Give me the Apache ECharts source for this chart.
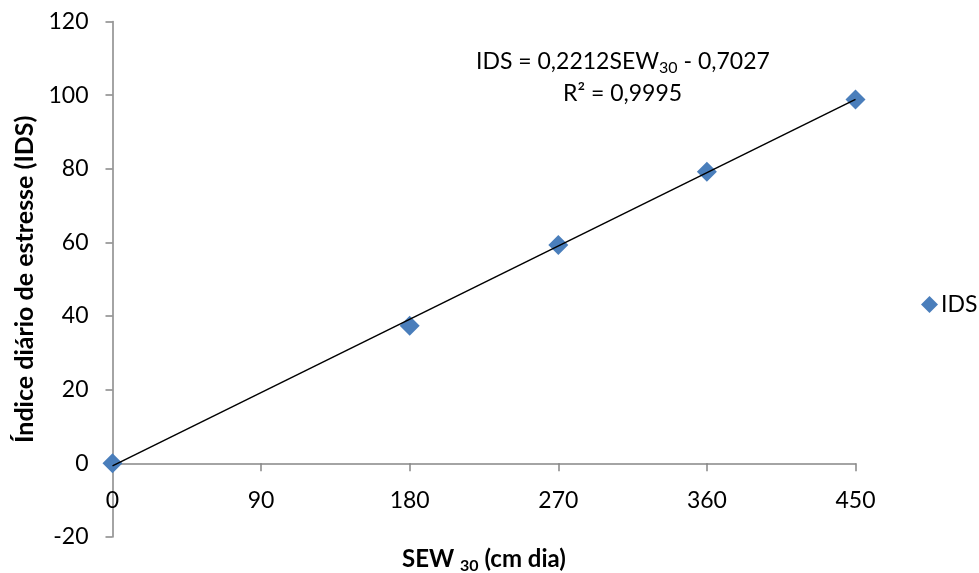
<!DOCTYPE html>
<html>
<head>
<meta charset="utf-8">
<script src="https://cdn.jsdelivr.net/npm/echarts@6/dist/echarts.min.js"></script>
<style>
  html, body { margin: 0; padding: 0; background: #fff; }
  #main { width: 979px; height: 573px; }
</style>
</head>
<body>
<div id="main"></div>
<script>
// dados
const sewValues = [0, 180, 270, 360, 450]
const idsValues = [0, 37.4, 59.3, 79.2, 98.8]
const xTicks = [0, 90, 180, 270, 360, 450]
const yTicks = [-20, 0, 20, 40, 60, 80, 100, 120]
// linha de tendência (equação mostrada no gráfico)
const trendSlope = 0.2212
const trendIntercept = -0.7027

const font = 'Lato'
const axisColor = '#868686'

const chart = echarts.init(document.getElementById('main'))

const points = sewValues.map((x, i) => [x, idsValues[i]])
const xFirst = xTicks[0], xLast = xTicks[xTicks.length - 1]
const trend = [
  [xFirst, trendSlope * xFirst + trendIntercept],
  [xLast, trendSlope * xLast + trendIntercept]
]

const option = {
  animation: false,
  textStyle: { fontFamily: font },
  grid: {
    left: 112.5, right: 123.5, top: 21.5, bottom: 36,
    containLabel: false,
    outerBoundsMode: 'none'
  },
  legend: {
    data: ['IDS'],
    left: 916,
    top: 288,
    icon: 'diamond',
    itemWidth: 17,
    itemHeight: 17,
    itemGap: 4,
    textStyle: { fontFamily: font, fontSize: 23, color: '#000', padding: [0, 0, 0, -2] }
  },
  xAxis: {
    type: 'value',
    min: xFirst,
    max: xLast,
    interval: 90,
    axisLine: { onZero: true, lineStyle: { color: axisColor, width: 1.5 } },
    axisTick: { show: true, length: 8, lineStyle: { color: axisColor, width: 1.5 } },
    splitLine: { show: false },
    // no v6 os rótulos ficam na borda do grid, então margem negativa
    axisLabel: { margin: -48, fontFamily: font, fontSize: 23, color: '#000' },
    name: 'SEW {sub|30} (cm dia)',
    nameLocation: 'middle',
    nameGap: 7,
    nameMoveOverlap: false,
    nameTextStyle: {
      fontFamily: font, fontSize: 24, fontWeight: 'bold', color: '#000',
      rich: { sub: { fontFamily: font, fontSize: 16, fontWeight: 'bold', color: '#000', padding: [14, 0, 0, 0] } }
    }
  },
  yAxis: {
    type: 'value',
    min: yTicks[0],
    max: yTicks[yTicks.length - 1],
    interval: 20,
    axisLine: { show: true, onZero: false, lineStyle: { color: axisColor, width: 1.5 } },
    axisTick: { show: true, length: 7, lineStyle: { color: axisColor, width: 1.5 } },
    splitLine: { show: false },
    axisLabel: { margin: 24, fontFamily: font, fontSize: 23, color: '#000' },
    name: 'Índice diário de estresse (IDS)',
    nameLocation: 'middle',
    nameGap: 73,
    nameRotate: 90,
    nameTextStyle: { fontFamily: font, fontSize: 25, fontWeight: 'bold', color: '#000' }
  },
  graphic: [
    {
      type: 'text',
      left: 476,
      top: 50,
      style: {
        text: 'IDS = 0,2212SEW{sub|30} - 0,7027',
        font: '23px Lato',
        fill: '#000',
        rich: { sub: { fontFamily: font, fontSize: 16, fill: '#000', padding: [12, 0, 0, 0] } }
      }
    },
    {
      type: 'text',
      left: 563,
      top: 82,
      style: {
        text: 'R² = 0,9995',
        font: '23px Lato',
        fill: '#000'
      }
    }
  ],
  series: [
    {
      name: 'IDS',
      type: 'scatter',
      data: points,
      symbol: 'diamond',
      symbolSize: 20,
      itemStyle: { color: '#4A7EBB', opacity: 1 },
      z: 2
    },
    {
      name: 'Linear (IDS)',
      type: 'line',
      data: trend,
      showSymbol: false,
      symbol: 'none',
      lineStyle: { color: '#000', width: 1.5 },
      z: 3
    }
  ]
}

chart.setOption(option)
</script>
</body>
</html>
